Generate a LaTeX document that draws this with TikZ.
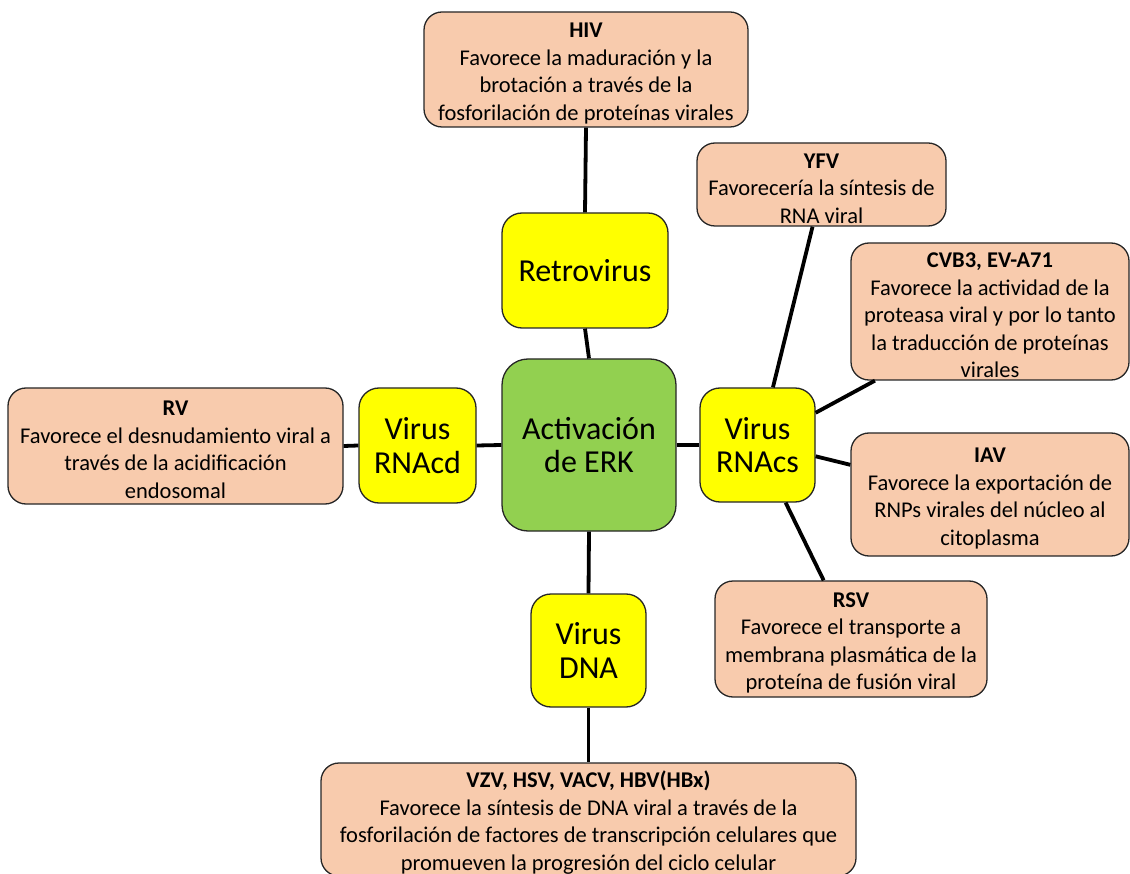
\documentclass[tikz,border=0pt]{standalone}
\usepackage{fontspec}
\setmainfont{Carlito}
\newcommand\hdr[1]{\rule{0pt}{22.5pt}\textbf{#1}}
\begin{document}
\begin{tikzpicture}[x=1pt,y=-1pt,
  box/.style={draw=black!85,line width=1.3pt,rounded corners=18pt,align=center,inner sep=0pt,
    font=\fontsize{22.5}{27.6}\selectfont},
  info/.style={box,fill=peach},
  virus/.style={box,fill=yel,rounded corners=20pt,font=\fontsize{32}{33.5}\selectfont},
  link/.style={line width=3.8pt,black}]
\definecolor{peach}{HTML}{F8CBAD}
\definecolor{yel}{HTML}{FFFF00}
\definecolor{grn}{HTML}{92D050}
\useasboundingbox (0,0) rectangle (1130,874);
% central
\node[virus,fill=grn,rounded corners=26pt,minimum width=174pt,minimum height=172pt] (erk) at (589,445) {Activación\\de ERK};
\node[virus,minimum width=166pt,minimum height=115pt] (retro) at (585,270.5) {Retrovirus};
\node[virus,minimum width=117pt,minimum height=115pt] (rnacd) at (417.5,445.5) {Virus\\RNAcd};
\node[virus,minimum width=115pt,minimum height=114pt] (rnacs) at (757.5,445) {Virus\\RNAcs};
\node[virus,minimum width=115pt,minimum height=113pt] (dna) at (588.5,650.5) {Virus\\DNA};
% info
\node[info,minimum width=324pt,minimum height=115pt] (hiv) at (586,69.5)
  {\hdr{HIV}\\Favorece la maduración y la\\brotación a través de la\\fosforilación de proteínas virales};
\node[info,minimum width=249pt,minimum height=83pt] (yfv) at (821.5,184.5)
  {\hdr{YFV}\\Favorecería la síntesis de\\RNA viral};
\node[info,minimum width=278pt,minimum height=137pt] (cvb) at (990,311.5)
  {\hdr{CVB3, EV-A71}\\Favorece la actividad de la\\proteasa viral y por lo tanto\\la traducción de proteínas\\virales};
\node[info,minimum width=278pt,minimum height=123pt] (iav) at (990,494.5)
  {\hdr{IAV}\\Favorece la exportación de\\RNPs virales del núcleo al\\citoplasma};
\node[info,minimum width=272pt,minimum height=116pt] (rsv) at (851,639)
  {\hdr{RSV}\\Favorece el transporte a\\membrana plasmática de la\\proteína de fusión viral};
\node[info,minimum width=335pt,minimum height=116pt] (rv) at (175.5,446)
  {\hdr{RV}\\Favorece el desnudamiento viral a\\través de la acidificación\\endosomal};
\node[info,minimum width=535pt,minimum height=113pt] (vzv) at (588.5,819.5)
  {\hdr{VZV, HSV, VACV, HBV(HBx)}\\Favorece la síntesis de DNA viral a través de la\\fosforilación de factores de transcripción celulares que\\promueven la progresión del ciclo celular};
% connectors
\draw[link] (hiv.south) -- (retro.north);
\draw[link] (retro.south) -- (erk.north);
\draw[link] (erk.west) -- (rnacd.east);
\draw[link] (rnacd.west) -- (rv.east);
\draw[link] (erk.east) -- (rnacs.west);
\draw[link] (erk.south) -- (dna.north);
\draw[link] (dna.south) -- (vzv.north);
\draw[link] (rnacs.75.7) -- (yfv.-102.9);
\draw[link] (rnacs.29.9) -- (cvb.-149.9);
\draw[link] (rnacs.-11.8) -- (iav.168);
\draw[link] (rnacs.-64.4) -- (rsv.115.8);
\end{tikzpicture}
\end{document}
